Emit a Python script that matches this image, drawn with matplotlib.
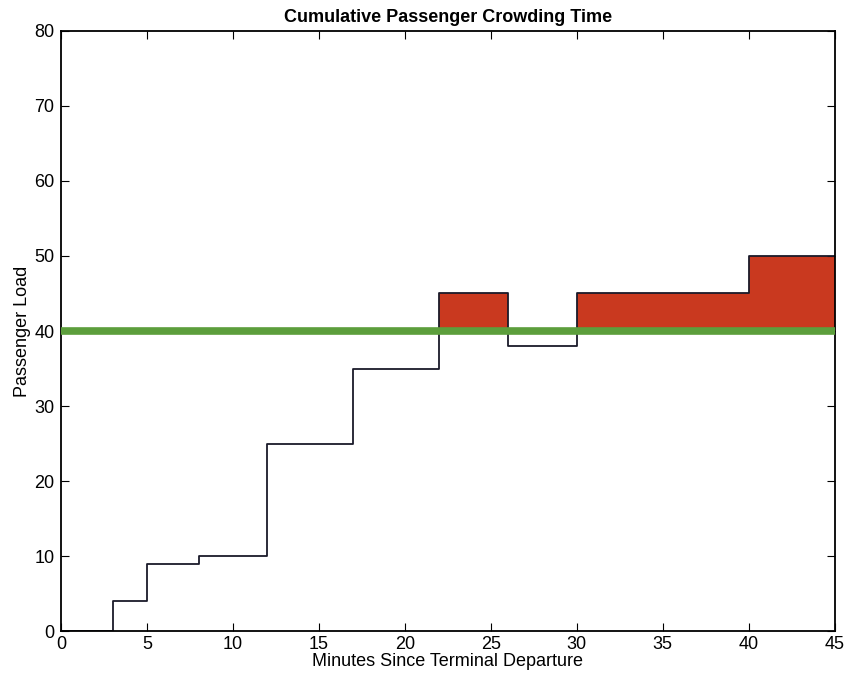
import numpy as np
import matplotlib.pyplot as plt

plt.rcParams['font.family'] = ['Liberation Sans', 'DejaVu Sans']

# step edges (minutes) and passenger load on each interval
minutes = [0, 3, 5, 8, 12, 17, 22, 26, 30, 40, 45]
load = [0, 4, 9, 10, 25, 35, 45, 38, 45, 50, 50]
capacity = 40

fig = plt.figure(figsize=(8.5, 6.79), dpi=100)
ax = fig.add_axes([0.072, 0.07, 0.91, 0.885])

x = np.array(minutes)
y = np.array(load)

# shade the load above capacity
over = np.maximum(y, capacity)
ax.fill_between(x, over, capacity, step='post', color='#c9391f',
                linewidth=0, zorder=1)
ax.step(x, y, where='post', color='#1a1a2a', linewidth=1.3, zorder=2)
ax.axhline(capacity, color='#5c9e3c', linewidth=5.5, zorder=3)

ax.set_xlim(0, 45)
ax.set_ylim(0, 80)
ax.set_xticks(range(0, 46, 5))
ax.set_yticks(range(0, 81, 10))
ax.tick_params(direction='in', top=True, right=True, length=6, labelsize=13)
ax.tick_params(axis='y', pad=5)
ax.tick_params(axis='x', pad=3)
for s in ax.spines.values():
    s.set_linewidth(1.3)

ax.set_title('Cumulative Passenger Crowding Time', fontsize=13, fontweight='bold', pad=6)
ax.set_xlabel('Minutes Since Terminal Departure', fontsize=13, labelpad=0)
ax.set_ylabel('Passenger Load', fontsize=13, labelpad=2)

plt.savefig('out.png')
